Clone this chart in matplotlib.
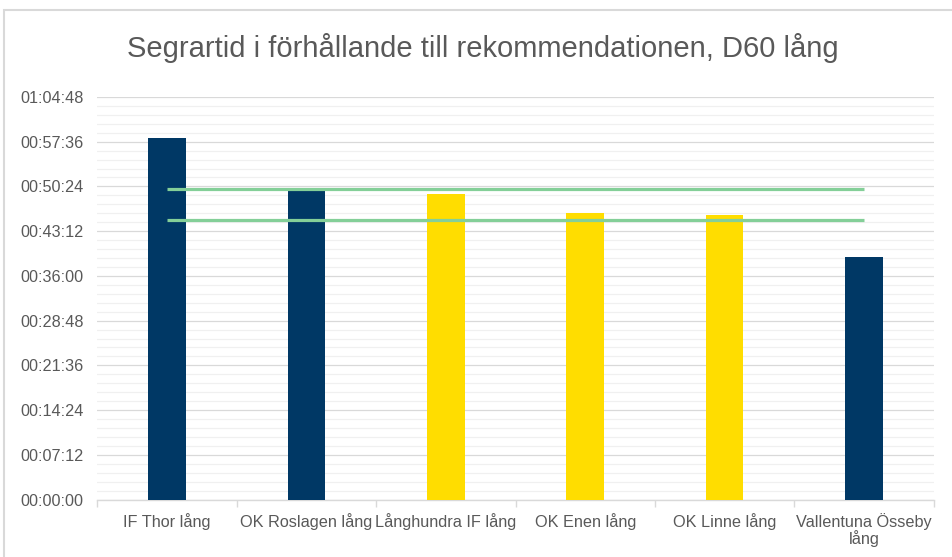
import matplotlib
matplotlib.use('Agg')
import matplotlib.pyplot as plt
from matplotlib.ticker import MultipleLocator, FuncFormatter
from matplotlib.patches import Rectangle

plt.rcParams['font.family'] = ['Liberation Sans', 'DejaVu Sans']

# data
clubs = ['IF Thor lång', 'OK Roslagen lång', 'Långhundra IF lång',
         'OK Enen lång', 'OK Linne lång', 'Vallentuna Össeby\nlång']
winner_times = ['00:58:09', '00:49:43', '00:49:11', '00:46:08', '00:45:48', '00:39:00']
bar_colors = ['#003865', '#003865', '#FFDD00', '#FFDD00', '#FFDD00', '#003865']
rec_upper = '00:50:00'
rec_lower = '00:45:00'

def to_sec(s):
  h, m, sec = s.split(':')
  return int(h) * 3600 + int(m) * 60 + int(sec)

def fmt_time(v, pos=None):
  v = int(round(v))
  return '%02d:%02d:%02d' % (v // 3600, (v % 3600) // 60, v % 60)

vals = [to_sec(t) for t in winner_times]
x = list(range(len(clubs)))

fig = plt.figure(figsize=(9.53, 5.57), dpi=100)
ax = fig.add_axes([0.1021, 0.1032, 0.8777, 0.7227])

ax.bar(x, vals, width=0.27, color=bar_colors, zorder=3)

# rekommenderat intervall
for t in (rec_upper, rec_lower):
  ax.plot([x[0], x[-1]], [to_sec(t)] * 2, color='#84CF98', lw=2.3, zorder=4,
          solid_capstyle='butt')

ax.set_xlim(-0.5, len(clubs) - 0.5)
ax.set_ylim(0, 3888)
ax.yaxis.set_major_locator(MultipleLocator(432))
ax.yaxis.set_minor_locator(MultipleLocator(86.4))
ax.yaxis.set_major_formatter(FuncFormatter(fmt_time))
ax.grid(axis='y', which='major', color='#d9d9d9', lw=0.9, zorder=0)
ax.grid(axis='y', which='minor', color='#f0f0f0', lw=0.9, zorder=0)
ax.tick_params(axis='y', which='both', length=0, pad=10, labelsize=11.7, labelcolor='#595959')

ax.set_xticks(x)
ax.set_xticklabels(clubs)
ax.set_xticks([i - 0.5 for i in range(len(clubs) + 1)], minor=True)
ax.tick_params(axis='x', which='major', length=0, pad=10, labelsize=11.7, labelcolor='#595959')
ax.tick_params(axis='x', which='minor', length=5, color='#d9d9d9', width=1)
for lab in ax.get_xticklabels():
  lab.set_linespacing(1.0)

for s in ('left', 'right', 'top'):
  ax.spines[s].set_visible(False)
ax.spines['bottom'].set_color('#d9d9d9')
ax.spines['bottom'].set_linewidth(1)

fig.text(0.507, 0.914, 'Segrartid i förhållande till rekommendationen, D60 lång',
         ha='center', va='center', fontsize=21, color='#595959')

# ram runt diagrammet
fig.patches.append(Rectangle((4 / 953, -0.1), 1.2, 1 - 10 / 557 + 0.1, transform=fig.transFigure,
                             fill=False, edgecolor='#d9d9d9', lw=1.5))

fig.savefig('out.png', dpi=100)
